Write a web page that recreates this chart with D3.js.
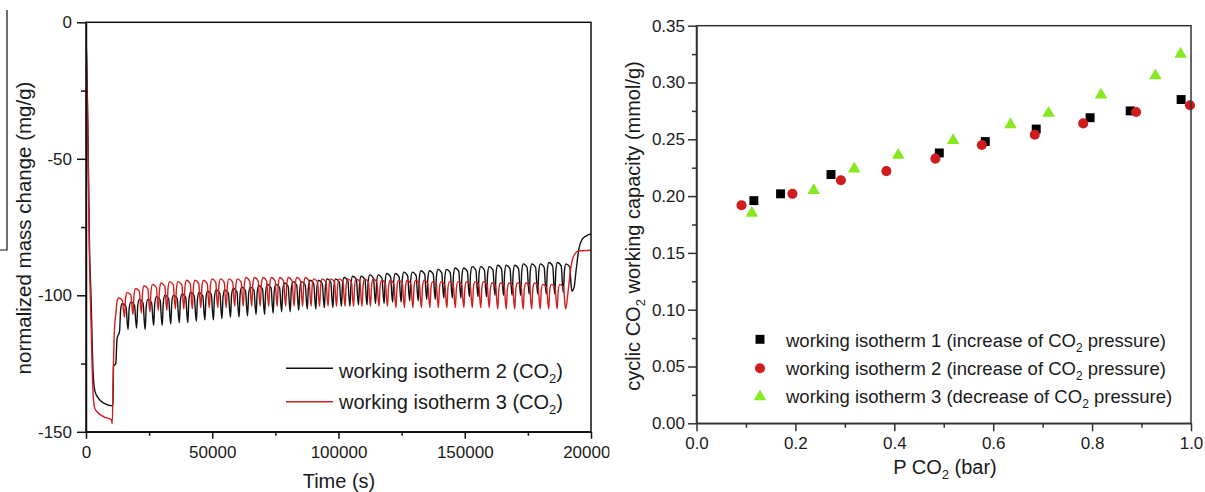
<!DOCTYPE html>
<html>
<head>
<meta charset="utf-8">
<script src="https://cdn.jsdelivr.net/npm/d3@7"></script>
<style>
  html, body { margin: 0; padding: 0; background: #fff; }
  svg { display: block; font-family: "Liberation Sans", Arial, sans-serif; }
</style>
</head>
<body>
<script>
// ---------------- LEFT PANEL DATA (time series, mg/g) ----------------
const leftXTicks = [0, 50000, 100000, 150000, 200000];
const leftXMinor = [25000, 75000, 125000, 175000];
const leftYTicks = [-150, -100, -50, 0];
const leftYMinor = [-125, -75, -25];

// working isotherm 2 (black): initial drop segment
const iso2Start = [[0,-3],[600,-30],[1400,-83],[2000,-101],[2800,-128],[3500,-135],[4750,-137.5],[7000,-139.5],[10700,-140.5],[10900,-126],[11800,-125],[12300,-116],[13300,-113]];
const iso2CycleStart = 13300, iso2Period = 3380;
const iso2Peaks = [-103,-102.5,-101.5,-101.5,-100.5,-100,-100,-99.5,-99,-99,-98.5,-98,-98,-97.5,-97,-97,-96.5,-96,-96,-95.5,-95,-95,-94.5,-94.5,-94,-94,-93.5,-93,-93,-92.5,-92.5,-92,-92,-91.5,-91.5,-91,-91,-90.5,-90.5,-90,-90,-89.5,-89.5,-89.5,-89,-89,-89,-88.5,-88.5,-88.5,-88,-88,-88.5];
const iso2Troughs = [-112.5,-112,-112.5,-111,-111,-110.5,-110,-110,-109.5,-109,-109,-108.5,-108,-108,-107.5,-107,-107,-106.5,-106,-106,-105.5,-105,-105,-104.5,-104.5,-104,-104,-103.5,-103.5,-103,-103,-102.5,-102.5,-102,-102,-101.5,-101.5,-101,-101,-101,-100.5,-100.5,-100.5,-100,-100,-100,-100,-99.5,-99.5,-99.5,-99.5,-99,-98.5];
const iso2End = [[193300,-97],[194200,-90],[195200,-83],[196500,-79.5],[198000,-78.3],[200000,-77.5]];

// working isotherm 3 (red)
const iso3Start = [[0,-3],[600,-33],[1400,-88],[2000,-110],[2800,-136],[3500,-141.5],[4750,-143],[7000,-144.5],[10000,-145.5],[10400,-147],[10800,-128],[11300,-112],[11900,-106]];
const iso3CycleStart = 11900, iso3Period = 3360;
const iso3Peaks = [-101,-99,-97.5,-96.5,-96,-95.5,-95,-95,-94.5,-94.5,-94.5,-94,-94,-94,-94,-93.5,-93.5,-93.5,-93.5,-93.5,-93.5,-93.5,-93.5,-94,-94,-94,-94,-94,-94,-94,-94,-94.5,-94.5,-94.5,-94.5,-94.5,-94.5,-95,-95,-95,-95,-95,-95,-95,-95.5,-95.5,-95.5,-95.5,-95.5,-95.5,-96,-96,-96];
const iso3Troughs = [-108,-107,-106.5,-106,-105.5,-105.5,-105,-105,-105,-104.5,-104.5,-104.5,-104.5,-104,-104,-104,-104,-104,-104,-104,-104,-104,-104,-104,-104,-104,-104,-104,-104,-104,-104,-104,-104.5,-104.5,-104.5,-104.5,-104.5,-104.5,-104.5,-104.5,-104.5,-104.5,-104.5,-104.5,-105,-105,-105,-105,-105,-105,-105,-105,-105];
const iso3End = [[191000,-98],[192000,-90],[193200,-85.5],[195000,-83.8],[200000,-83.5]];

// relative shape of one adsorption/desorption tooth: [fraction of period, weight toward peak]
const toothShape = [[0.12,0.75],[0.3,1],[0.75,0.88],[0.9,0.25]];

// ---------------- RIGHT PANEL DATA ----------------
const rightXTicks = [0, 0.2, 0.4, 0.6, 0.8, 1.0];
const rightXMinor = [0.1, 0.3, 0.5, 0.7, 0.9];
const rightYTicks = [0, 0.05, 0.10, 0.15, 0.20, 0.25, 0.30, 0.35];
const rightYMinor = [0.025, 0.075, 0.125, 0.175, 0.225, 0.275, 0.325];

const wi1P = [0.116, 0.170, 0.272, 0.491, 0.584, 0.687, 0.796, 0.877, 0.980];
const wi1C = [0.196, 0.202, 0.219, 0.238, 0.248, 0.259, 0.269, 0.275, 0.285];
const wi2P = [0.091, 0.194, 0.292, 0.384, 0.483, 0.577, 0.684, 0.782, 0.889, 0.998];
const wi2C = [0.192, 0.202, 0.214, 0.222, 0.233, 0.245, 0.254, 0.264, 0.274, 0.280];
const wi3P = [0.112, 0.237, 0.319, 0.408, 0.519, 0.635, 0.712, 0.818, 0.928, 0.979];
const wi3C = [0.185, 0.205, 0.224, 0.236, 0.249, 0.263, 0.273, 0.289, 0.306, 0.325];

// ---------------- DRAWING ----------------
const W = 1205, H = 492;
const svg = d3.select("body").append("svg").attr("width", W).attr("height", H);
svg.append("rect").attr("width", W).attr("height", H).attr("fill", "#fff");

function buildSeries(start, cStart, period, peaks, troughs, end) {
  const pts = start.slice();
  const n = Math.min(peaks.length, troughs.length);
  let prev = start[start.length - 1][1];
  for (let i = 0; i < n; i++) {
    const t0 = cStart + i * period;
    toothShape.forEach(([f, w]) => {
      const base = f < 0.5 ? prev : troughs[i];
      pts.push([t0 + f * period, base + w * (peaks[i] - base)]);
    });
    pts.push([t0 + period, troughs[i]]);
    prev = troughs[i];
  }
  return pts.concat(end);
}

// ---- left panel ----
const xL = d3.scaleLinear().domain([0, 200000]).range([86, 591]);
const yL = d3.scaleLinear().domain([-150, 0]).range([431.8, 22.3]);

svg.append("defs").append("clipPath").attr("id", "leftClip")
  .append("rect").attr("x", 0).attr("y", 0).attr("width", 609.5).attr("height", H);
svg.append("defs").append("clipPath").attr("id", "plotL")
  .append("rect").attr("x", 86).attr("y", 22).attr("width", 505).attr("height", 410);

const gL = svg.append("g").attr("clip-path", "url(#leftClip)");

// stray crop line at far left (part of the reference image)
gL.append("path").attr("d", "M7,10V250H0").attr("fill", "none").attr("stroke", "#111").attr("stroke-width", 1.2);

const lineGen = d3.line().x(d => xL(d[0])).y(d => yL(d[1])).curve(d3.curveMonotoneX);
const s2 = buildSeries(iso2Start, iso2CycleStart, iso2Period, iso2Peaks, iso2Troughs, iso2End);
const s3 = buildSeries(iso3Start, iso3CycleStart, iso3Period, iso3Peaks, iso3Troughs, iso3End);
const gData = gL.append("g").attr("clip-path", "url(#plotL)");
gData.append("path").attr("d", lineGen(s2)).attr("fill", "none").attr("stroke", "#111").attr("stroke-width", 1.4);
gData.append("path").attr("d", lineGen(s3)).attr("fill", "none").attr("stroke", "#d11f1f").attr("stroke-width", 1.4);

function styleAxis(g, color) {
  g.selectAll("path.domain").attr("stroke", color).attr("stroke-width", 1.5);
  g.selectAll(".tick line").attr("stroke", color).attr("stroke-width", 1.5);
  g.selectAll(".tick text").attr("fill", "#1a1a1a").attr("font-size", 17)
    .attr("font-family", "'Liberation Sans', Arial, sans-serif");
}
const plainNum = d => String(d);

let ax;
ax = gL.append("g").attr("transform", `translate(86,0)`)
  .call(d3.axisLeft(yL).tickValues(leftYTicks).tickSize(9).tickSizeOuter(0).tickPadding(5).tickFormat(plainNum));
styleAxis(ax, "#111");
ax = gL.append("g").attr("transform", `translate(86,0)`)
  .call(d3.axisLeft(yL).tickValues(leftYMinor).tickSize(5).tickSizeOuter(0).tickFormat(""));
ax.select(".domain").remove(); styleAxis(ax, "#111");
ax = gL.append("g").attr("transform", `translate(0,431.8)`)
  .call(d3.axisBottom(xL).tickValues(leftXTicks).tickSize(7).tickSizeOuter(0).tickPadding(7).tickFormat(plainNum));
styleAxis(ax, "#111");
ax = gL.append("g").attr("transform", `translate(0,431.8)`)
  .call(d3.axisBottom(xL).tickValues(leftXMinor).tickSize(4).tickSizeOuter(0).tickFormat(""));
ax.select(".domain").remove(); styleAxis(ax, "#111");
gL.append("rect").attr("x", 86).attr("y", 22.3).attr("width", 505).attr("height", 409.5)
  .attr("fill", "none").attr("stroke", "#111").attr("stroke-width", 1.5);

// left titles
gL.append("text").attr("x", 339).attr("y", 488).attr("text-anchor", "middle")
  .attr("font-size", 20).attr("fill", "#1a1a1a").text("Time (s)");
gL.append("text").attr("transform", "translate(31,228) rotate(-90)").attr("text-anchor", "middle")
  .attr("font-size", 20.5).attr("fill", "#1a1a1a").text("normalized mass change (mg/g)");

// left legend
const leftLegend = [
  { name: "working isotherm 2 (CO", color: "#111", ly: 368.3, ty: 377.7 },
  { name: "working isotherm 3 (CO", color: "#d11f1f", ly: 401.7, ty: 408.5 }
];
leftLegend.forEach(d => {
  gL.append("line").attr("x1", 286).attr("x2", 333).attr("y1", d.ly).attr("y2", d.ly)
    .attr("stroke", d.color).attr("stroke-width", 1.4);
  const t = gL.append("text").attr("x", 339).attr("y", d.ty).attr("font-size", 20).attr("fill", "#1a1a1a");
  t.append("tspan").text(d.name);
  t.append("tspan").attr("dy", 5).attr("font-size", 13).text("2");
  t.append("tspan").attr("dy", -5).text(")");
});

// ---- right panel ----
const xR = d3.scaleLinear().domain([0, 1]).range([696.5, 1191]);
const yR = d3.scaleLinear().domain([0, 0.35]).range([423.3, 25.7]);
const gR = svg.append("g");
const axColR = "#333";

ax = gR.append("g").attr("transform", `translate(696.5,0)`)
  .call(d3.axisLeft(yR).tickValues(rightYTicks).tickSize(8.5).tickSizeOuter(0).tickPadding(3).tickFormat(d3.format(".2f")));
styleAxis(ax, axColR);
ax = gR.append("g").attr("transform", `translate(696.5,0)`)
  .call(d3.axisLeft(yR).tickValues(rightYMinor).tickSize(4.5).tickSizeOuter(0).tickFormat(""));
ax.select(".domain").remove(); styleAxis(ax, axColR);
ax = gR.append("g").attr("transform", `translate(0,423.3)`)
  .call(d3.axisBottom(xR).tickValues(rightXTicks).tickSize(8).tickSizeOuter(0).tickPadding(6).tickFormat(d3.format(".1f")));
styleAxis(ax, axColR);
ax = gR.append("g").attr("transform", `translate(0,423.3)`)
  .call(d3.axisBottom(xR).tickValues(rightXMinor).tickSize(4.5).tickSizeOuter(0).tickFormat(""));
ax.select(".domain").remove(); styleAxis(ax, axColR);

const seriesR = [
  { p: wi1P, c: wi1C, type: d3.symbolSquare, size: 80, color: "#000" },
  { p: wi2P, c: wi2C, type: d3.symbolCircle, size: 80, color: "#d01c1f" },
  { p: wi3P, c: wi3C, type: d3.symbolTriangle, size: 68, color: "#86e81f" }
];
seriesR.forEach(s => {
  const sym = d3.symbol().type(s.type).size(s.size);
  gR.append("g").selectAll("path").data(s.p.map((p, i) => [p, s.c[i]])).join("path")
    .attr("transform", d => `translate(${xR(d[0])},${yR(d[1])})`)
    .attr("d", sym()).attr("fill", s.color);
});

gR.append("rect").attr("x", 696.5).attr("y", 25.7).attr("width", 494.5).attr("height", 397.6)
  .attr("fill", "none").attr("stroke", axColR).attr("stroke-width", 1.5);

// right titles
{
  const t = gR.append("text").attr("x", 945).attr("y", 474).attr("text-anchor", "middle")
    .attr("font-size", 20).attr("fill", "#1a1a1a");
  t.append("tspan").text("P CO");
  t.append("tspan").attr("dy", 5).attr("font-size", 13).text("2");
  t.append("tspan").attr("dy", -5).text(" (bar)");
}
{
  const t = gR.append("text").attr("transform", "translate(640,226) rotate(-90)").attr("text-anchor", "middle")
    .attr("font-size", 20).attr("fill", "#1a1a1a");
  t.append("tspan").text("cyclic CO");
  t.append("tspan").attr("dy", 5).attr("font-size", 13).text("2");
  t.append("tspan").attr("dy", -5).text(" working capacity (mmol/g)");
}

// right legend
const rightLegend = [
  { pre: "working isotherm 1 (increase of CO", post: " pressure)", type: d3.symbolSquare, size: 80, color: "#000", my: 339.3, ty: 346.7 },
  { pre: "working isotherm 2 (increase of CO", post: " pressure)", type: d3.symbolCircle, size: 80, color: "#d01c1f", my: 368.3, ty: 375 },
  { pre: "working isotherm 3 (decrease of CO", post: " pressure)", type: d3.symbolTriangle, size: 68, color: "#86e81f", my: 396.7, ty: 403.3 }
];
rightLegend.forEach(d => {
  gR.append("path").attr("transform", `translate(760,${d.my})`)
    .attr("d", d3.symbol().type(d.type).size(d.size)()).attr("fill", d.color);
  const t = gR.append("text").attr("x", 786).attr("y", d.ty).attr("font-size", 18.5).attr("fill", "#1a1a1a");
  t.append("tspan").text(d.pre);
  t.append("tspan").attr("dy", 5).attr("font-size", 12).text("2");
  t.append("tspan").attr("dy", -5).text(d.post);
});
</script>
</body>
</html>
